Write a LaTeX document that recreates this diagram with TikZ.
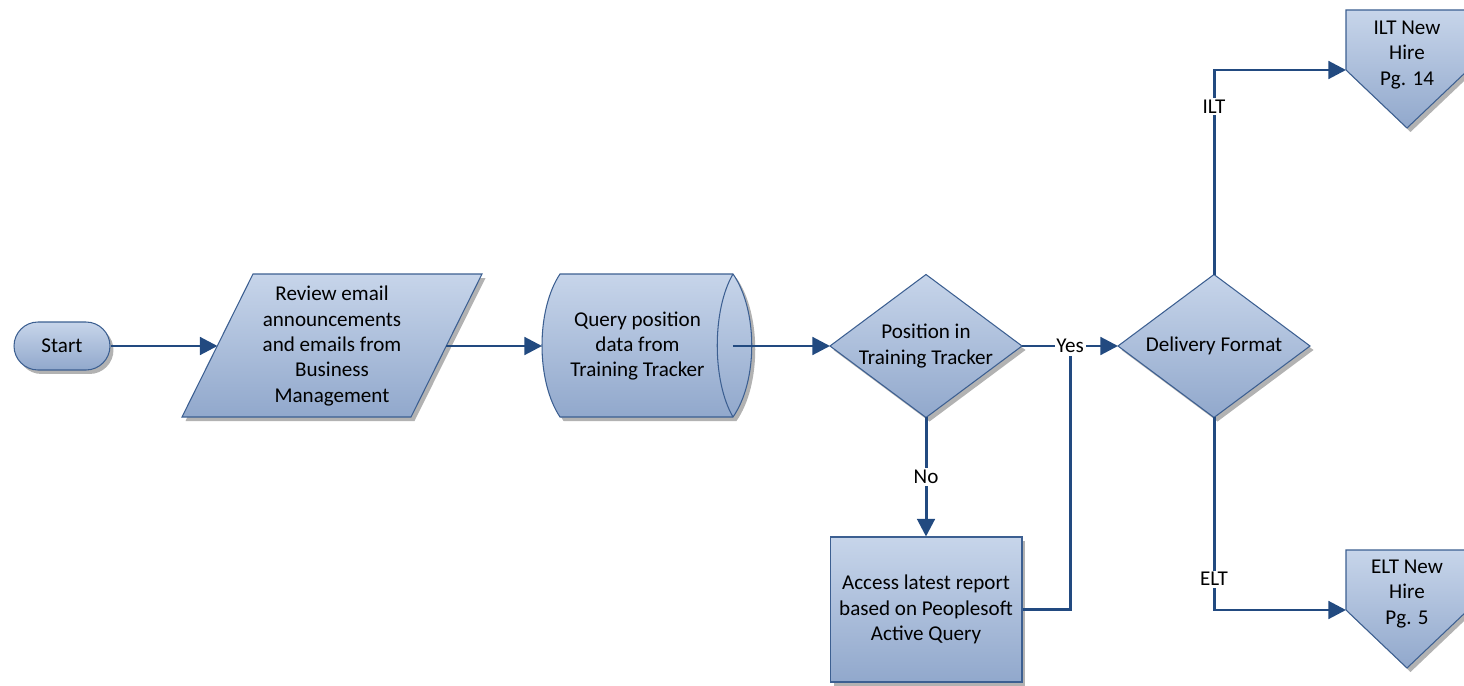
\documentclass[tikz,border=0pt]{standalone}
\usepackage{fontspec}
\setmainfont{Carlito}
\usetikzlibrary{arrows.meta,shadows}
\definecolor{fillTop}{RGB}{199,213,234}
\definecolor{fillBot}{RGB}{145,168,204}
\definecolor{edgeC}{RGB}{60,95,145}
\definecolor{lineC}{RGB}{34,74,128}
\tikzset{
  shp/.style={draw=edgeC, line width=0.6pt, top color=fillTop, bottom color=fillBot,
    drop shadow={shadow xshift=0.07cm, shadow yshift=-0.08cm, fill=gray!60, opacity=1}},
  box/.style 2 args={inner sep=0pt, outer sep=0pt, minimum width=#1, minimum height=#2, align=center, text=black},
  txt/.style={align=center, text=black, inner sep=0pt},
  conn/.style={draw=lineC, line width=1.7pt, -{Triangle[length=10pt,width=10pt]}},
  plainline/.style={draw=lineC, line width=1.7pt},
  lbl/.style={fill=white, inner sep=1pt, text=black}
}
\begin{document}
\begin{tikzpicture}[x=0.02cm, y=-0.02cm, font=\fontsize{12}{14.5}\selectfont]
\useasboundingbox (0,0) rectangle (1464,686);

% Start
\node[shp, rounded corners=0.48cm, minimum width=1.92cm, minimum height=0.96cm, inner sep=0pt] (start) at (62,346) {Start};

% Parallelogram
\path[shp] (253,274) -- (482,274) -- (411,417) -- (182,417) -- cycle;
\node[box={4.58cm}{2.86cm}] (par) at (332,346) {Review email\\announcements\\and emails from\\Business\\Management};

% Cylinder (direct data)
\path[shp] (560,274) -- (733,274) .. controls (758,310) and (758,381) .. (733,417)
  -- (560,417) .. controls (536,381) and (536,310) .. (560,274) -- cycle;
\draw[draw=edgeC, line width=0.6pt] (733,274) .. controls (712,310) and (712,381) .. (733,417);
\node[box={3.82cm}{2.86cm}] (cyl) at (637.5,346) {Query position\\data from\\Training Tracker};

% Decision 1
\path[shp] (830,346) -- (926,274.5) -- (1022,346) -- (926,417.5) -- cycle;
\node[box={3.84cm}{2.86cm}] (d1) at (926,346) {Position in\\Training Tracker};

% Decision 2
\path[shp] (1118,346) -- (1214,274.5) -- (1310,346) -- (1214,417.5) -- cycle;
\node[box={3.84cm}{2.86cm}] (d2) at (1214,346) {Delivery Format};

% Access process
\node[shp, minimum width=3.84cm, minimum height=2.9cm, inner sep=0pt, align=center] (acc) at (926,609.5) {Access latest report\\based on Peoplesoft\\Active Query};

% Off-page ILT
\path[shp] (1346,10) -- (1468,10) -- (1468,70) -- (1407,128) -- (1346,70) -- cycle;
\node[txt] (ilt) at (1407,55) {ILT New\\Hire\\Pg. 14};
\coordinate (iltin) at (1346,70);

% Off-page ELT
\path[shp] (1346,550) -- (1468,550) -- (1468,610) -- (1407,668) -- (1346,610) -- cycle;
\node[txt] (elt) at (1407,594) {ELT New\\Hire\\Pg. 5};
\coordinate (eltin) at (1346,610);

% Connectors
\draw[conn] (start.east) -- (par.west);
\draw[conn] (par.east) -- (cyl.west);
\draw[conn] (cyl.east) -- (d1.west);
\draw[conn] (d1.east) -- node[lbl] (yes) {Yes} (d2.west);
\draw[conn] (d1.south) -- node[lbl] (no) {No} (acc.north);
\draw[plainline] (acc.east) -| (yes.south);
\draw[conn] (d2.north) |- node[lbl, pos=0.41] (iltl) {ILT} (iltin);
\draw[conn] (d2.south) |- node[lbl, pos=0.42] (eltl) {ELT} (eltin);
\end{tikzpicture}
\end{document}
